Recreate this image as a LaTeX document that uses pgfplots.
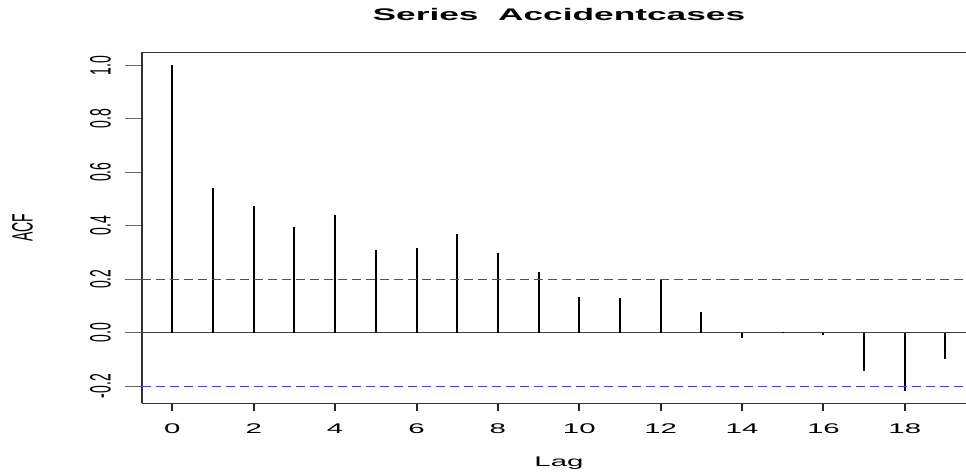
\documentclass[border=0pt]{standalone}
\usepackage{fontspec}
\setmainfont{Liberation Sans}
\usepackage{pgfplots}
\pgfplotsset{compat=1.18}
\definecolor{ciblue}{RGB}{60,60,255}
\newcommand{\tickfont}{\fontsize{14}{16}\selectfont}
\begin{document}
\begin{tikzpicture}
\path[use as bounding box] (0,0) rectangle (966pt,474pt);
\clip (0,0) rectangle (966pt,474pt);
\begin{axis}[
  at={(141.5pt,70.7pt)}, anchor=south west,
  scale only axis, width=834.9pt, height=351pt,
  xmin=-0.76, xmax=19.76, ymin=-0.264, ymax=1.0486,
  separate axis lines,
  axis line style={black!80},
  every outer x axis line/.append style={line width=1.1pt},
  every outer y axis line/.append style={line width=2pt},
  tick align=outside, xtick pos=bottom, ytick pos=left,
  xtick={0,2,4,6,8,10,12,14,16,18},
  xticklabels={0,2,4,6,8,10,12,14,16,18},
  ytick={-0.2,0,0.2,0.4,0.6,0.8,1.0},
  yticklabels={-0.2,0.0,0.2,0.4,0.6,0.8,1.0},
  major tick length=7.3pt,
  x tick style={line width=2pt, black!85, /pgfplots/major tick length=7.3pt},
  y tick style={line width=1pt, black!60, /pgfplots/major tick length=17pt},
  xticklabel style={yshift=-12.7pt, xscale=2.1, anchor=north, inner sep=0pt, font=\tickfont},
  yticklabel style={xshift=-22.8pt, xscale=2.1, rotate=90, anchor=south, inner sep=0pt, font=\tickfont},
  title={Series\ \ Accidentcases},
  every axis title/.style={at={(axis description cs:0.5,1)}, yshift=31.6pt, xscale=2.1, anchor=base, inner sep=0pt, font=\fontsize{16.8}{20}\selectfont\bfseries},
  xlabel={Lag},
  every axis x label/.style={at={(axis description cs:0.5,0)}, yshift=-63.4pt, xscale=2.1, anchor=base, inner sep=0pt, font=\tickfont},
  ylabel={ACF},
  every axis y label/.style={at={(axis description cs:0,0.5)}, xshift=-108.2pt, xscale=2.1, rotate=90, anchor=south, inner sep=0pt, font=\tickfont},
]
\addplot[black!75, line width=1pt] coordinates {(-0.76,0) (19.76,0)};
\addplot[ycomb, black, line width=2pt, no marks] coordinates {
(0,1.000) (1,0.540) (2,0.475) (3,0.394) (4,0.439) (5,0.309) (6,0.315)
(7,0.370) (8,0.297) (9,0.228) (10,0.135) (11,0.128) (12,0.197) (13,0.079)
(14,-0.019) (15,0.004) (16,-0.009) (17,-0.143) (18,-0.217) (19,-0.097)
};
\addplot[draw=ciblue, line width=1pt, dash pattern=on 9pt off 5pt] coordinates {(-0.76,0.2) (19.76,0.2)};
\addplot[draw=ciblue, line width=1pt, dash pattern=on 9pt off 5pt] coordinates {(-0.76,-0.2) (19.76,-0.2)};
\end{axis}
\end{tikzpicture}
\end{document}
